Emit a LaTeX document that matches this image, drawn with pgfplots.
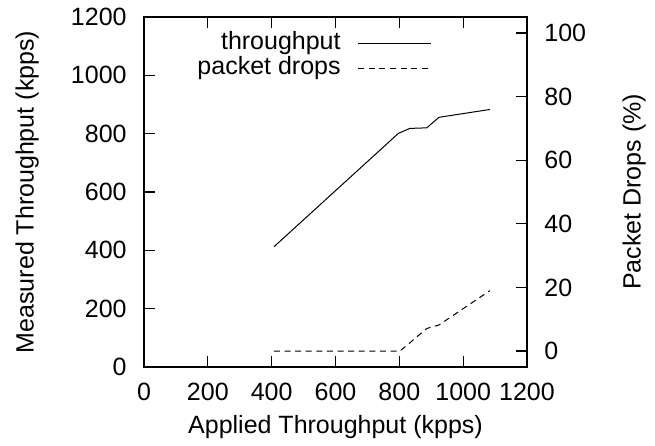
\documentclass[border=0pt]{standalone}
\usepackage{fontspec}
\setmainfont{Liberation Sans}
\usepackage{pgfplots}
\pgfplotsset{compat=1.18}

\newcommand{\gpfont}{\fontsize{12.5bp}{15bp}\selectfont}

\pgfplotsset{
  gpaxis/.style={
    scale only axis, width=191.5bp, height=175bp,
    xmin=0, xmax=1200,
    tick align=inside,
    major tick length=5.5bp,
    axis line style={line width=0.6bp},
    every tick/.style={line width=0.6bp, black},
    /pgf/number format/assume math mode=true,
    /pgf/number format/1000 sep={},
    tick label style={font=\gpfont, inner sep=0pt},
    label style={font=\gpfont, inner sep=0pt},
  },
}

\begin{document}
\gpfont
\begin{tikzpicture}
% left axis: measured throughput
\begin{axis}[
  gpaxis,
  ymin=0, ymax=1200,
  xtick={0,200,...,1200}, ytick={0,200,...,1200},
  xtick pos=both, ytick pos=left,
  xticklabel pos=bottom, yticklabel pos=left,
  xticklabel style={yshift=-8bp},
  yticklabel style={xshift=-8.5bp},
  xlabel={Applied Throughput (kpps)},
  ylabel={Measured Throughput (kpps)},
  xlabel style={at={([yshift=-24bp]axis description cs:0.5,0)}, anchor=north},
  ylabel style={at={([xshift=-64.5bp]axis description cs:0,0.5)}, anchor=north},
]
\addplot[black, line width=0.5bp] coordinates {
  (407,412) (797,801) (833,818) (886,820) (924,856) (1084,883)
};
\end{axis}

% right axis: packet drops
\begin{axis}[
  gpaxis,
  ymin=-5, ymax=105,
  hide x axis,
  ytick={0,20,...,100},
  ytick pos=right, yticklabel pos=right,
  yticklabel style={xshift=8.5bp},
  ylabel={Packet Drops (\%)},
  ylabel style={at={([xshift=47.5bp]axis description cs:1,0.5)}, anchor=north},
  legend plot pos=right,
  legend cell align=right,
  legend image code/.code={\draw[#1] (0bp,0bp) -- (36.5bp,0bp);},
  legend style={draw=none, fill=none, font=\gpfont,
    at={(rel axis cs:0.752,0.961)}, anchor=north east,
    inner sep=0pt, column sep=8.5bp, row sep=0.5bp,
    nodes={inner sep=0pt, text height=9bp, text depth=3bp}},
]
\addlegendimage{black, line width=0.5bp}
\addlegendentry{throughput}
\addplot[black, line width=0.5bp, dash pattern=on 3bp off 2.3bp] coordinates {
  (407,0) (802,0) (886,7.1) (924,8.2) (1084,19)
};
\addlegendentry{packet drops}
\end{axis}

\pgfresetboundingbox
\path[use as bounding box] (-72bp,-39.5bp) rectangle (255.5bp,183.5bp);
\end{tikzpicture}
\end{document}
